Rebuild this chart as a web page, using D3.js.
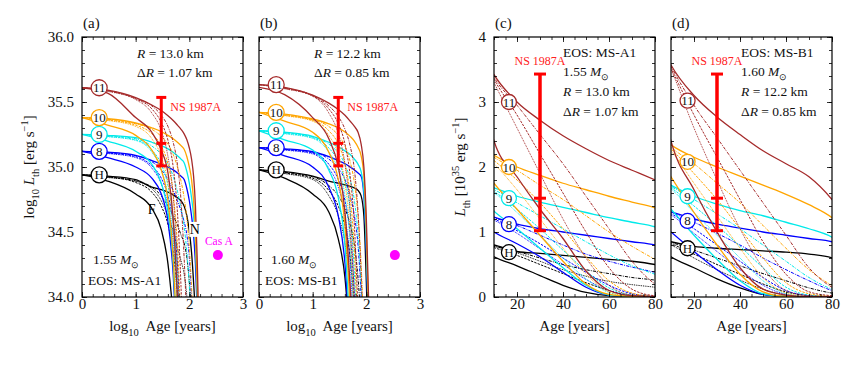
<!DOCTYPE html>
<html>
<head>
<meta charset="utf-8">
<script src="https://cdn.jsdelivr.net/npm/d3@7/dist/d3.min.js"></script>
<style>
  body { margin: 0; background: #fff; }
  svg text { white-space: pre; font-family: 'Liberation Serif' !important; }
</style>
</head>
<body>
<script>
const ages = [1, 3, 10, 20, 30, 40, 50, 60, 70, 80, 90, 100, 110, 120, 130, 140, 150];

// L_th in units of 1e35 erg/s.  N, F = solid, dd = dash-dot, ds = dashed, dt = dotted
// EOS MS-A1, 1.55 Msun  (panels a, c)
const A1_H = {
    N:  [0.87, 0.85, 0.80, 0.70, 0.67, 0.64, 0.61, 0.58, 0.55, 0.50, 0.42, 0.32, 0.22, 0.13, 0.07, 0.03, 0.01],
    F:  [0.87, 0.78, 0.62, 0.48, 0.33, 0.18, 0.07, 0.02, 0.008, 0.005],
    dd: [0.87, 0.84, 0.78, 0.70, 0.60, 0.50, 0.42, 0.36, 0.30, 0.26, 0.20, 0.13, 0.07, 0.03, 0.01],
    ds: [0.87, 0.84, 0.76, 0.64, 0.50, 0.36, 0.22, 0.10, 0.02, 0.008, 0.005],
    dt: [0.87, 0.83, 0.78, 0.68, 0.55, 0.42, 0.32, 0.24, 0.19, 0.15, 0.10, 0.05, 0.02, 0.008]
};
const A1_8 = {
    N:  [1.32, 1.30, 1.23, 1.12, 1.05, 1.00, 0.95, 0.90, 0.85, 0.80, 0.68, 0.55, 0.42, 0.30, 0.18, 0.08, 0.03],
    F:  [1.32, 1.18, 1.00, 0.82, 0.62, 0.38, 0.15, 0.03, 0.01, 0.005],
    dd: [1.32, 1.29, 1.22, 1.10, 0.95, 0.80, 0.66, 0.55, 0.46, 0.38, 0.30, 0.20, 0.10, 0.04, 0.01],
    ds: [1.32, 1.28, 1.20, 1.02, 0.82, 0.60, 0.38, 0.18, 0.05, 0.01, 0.005],
    dt: [1.32, 1.27, 1.18, 0.98, 0.74, 0.50, 0.27, 0.10, 0.02, 0.005]
};
const A1_9 = {
    N:  [1.78, 1.75, 1.68, 1.55, 1.46, 1.38, 1.30, 1.22, 1.15, 1.08, 0.92, 0.75, 0.58, 0.42, 0.25, 0.10, 0.04],
    F:  [1.78, 1.58, 1.32, 1.05, 0.75, 0.45, 0.18, 0.03, 0.008, 0.005],
    dd: [1.78, 1.74, 1.65, 1.45, 1.25, 1.05, 0.85, 0.65, 0.48, 0.35, 0.22, 0.12, 0.05, 0.02, 0.005],
    ds: [1.78, 1.72, 1.62, 1.35, 1.05, 0.72, 0.40, 0.14, 0.03, 0.008, 0.005],
    dt: [1.78, 1.71, 1.60, 1.30, 0.95, 0.60, 0.28, 0.07, 0.01, 0.005]
};
const A1_10 = {
    N:  [2.40, 2.35, 2.18, 2.00, 1.87, 1.75, 1.65, 1.55, 1.46, 1.37, 1.20, 1.00, 0.80, 0.55, 0.30, 0.12, 0.04],
    F:  [2.40, 2.10, 1.75, 1.35, 0.95, 0.55, 0.20, 0.04, 0.01, 0.005],
    dd: [2.40, 2.33, 2.15, 1.95, 1.72, 1.50, 1.25, 1.00, 0.78, 0.58, 0.40, 0.24, 0.12, 0.05, 0.02, 0.005],
    ds: [2.40, 2.30, 2.10, 1.80, 1.45, 1.05, 0.62, 0.25, 0.06, 0.01, 0.005],
    dt: [2.40, 2.28, 2.05, 1.65, 1.20, 0.75, 0.35, 0.08, 0.01, 0.005]
};
const A1_11 = {
    N:  [4.07, 3.90, 3.42, 3.00, 2.72, 2.48, 2.28, 2.10, 1.95, 1.80, 1.62, 1.40, 1.15, 0.85, 0.50, 0.20, 0.06],
    F:  [4.07, 3.70, 2.40, 1.85, 1.35, 0.90, 0.40, 0.10, 0.02, 0.005],
    dd: [4.07, 3.88, 3.38, 2.95, 2.50, 2.05, 1.55, 1.05, 0.55, 0.20, 0.06, 0.015, 0.005],
    ds: [4.07, 3.85, 3.35, 2.80, 2.20, 1.60, 1.00, 0.45, 0.12, 0.02, 0.005],
    dt: [4.07, 3.82, 3.30, 2.60, 1.90, 1.20, 0.60, 0.18, 0.03, 0.005]
};
// EOS MS-B1, 1.60 Msun  (panels b, d)
const B1_H = {
    N:  [0.95, 0.92, 0.85, 0.78, 0.75, 0.73, 0.71, 0.69, 0.66, 0.60, 0.42, 0.13, 0.03, 0.008],
    F:  [0.95, 0.82, 0.62, 0.45, 0.28, 0.14, 0.04, 0.01, 0.005, 0.005],
    dd: [0.95, 0.91, 0.84, 0.72, 0.60, 0.48, 0.36, 0.25, 0.14, 0.06, 0.02, 0.005],
    ds: [0.95, 0.90, 0.82, 0.66, 0.50, 0.35, 0.20, 0.08, 0.02, 0.005],
    dt: [0.95, 0.89, 0.80, 0.60, 0.42, 0.26, 0.12, 0.03, 0.005, 0.005]
};
const B1_8 = {
    N:  [1.41, 1.38, 1.31, 1.20, 1.12, 1.06, 1.00, 0.95, 0.90, 0.85, 0.60, 0.22, 0.05, 0.01],
    F:  [1.41, 1.22, 1.00, 0.70, 0.42, 0.18, 0.04, 0.01, 0.005, 0.005],
    dd: [1.41, 1.37, 1.30, 1.15, 0.98, 0.80, 0.60, 0.42, 0.25, 0.10, 0.03, 0.005],
    ds: [1.41, 1.36, 1.28, 1.05, 0.80, 0.55, 0.30, 0.10, 0.02, 0.005],
    dt: [1.41, 1.35, 1.26, 0.98, 0.70, 0.42, 0.18, 0.04, 0.005, 0.005]
};
const B1_9 = {
    N:  [1.90, 1.85, 1.72, 1.55, 1.43, 1.33, 1.25, 1.15, 1.05, 0.92, 0.65, 0.25, 0.06, 0.01],
    F:  [1.90, 1.62, 1.35, 0.95, 0.58, 0.25, 0.05, 0.01, 0.005, 0.005],
    dd: [1.90, 1.84, 1.70, 1.50, 1.28, 1.05, 0.80, 0.55, 0.30, 0.12, 0.03, 0.005],
    ds: [1.90, 1.82, 1.68, 1.40, 1.10, 0.78, 0.45, 0.15, 0.03, 0.005],
    dt: [1.90, 1.80, 1.66, 1.30, 0.95, 0.60, 0.25, 0.05, 0.005, 0.005]
};
const B1_10 = {
    N:  [2.63, 2.55, 2.34, 2.15, 2.00, 1.86, 1.72, 1.58, 1.42, 1.22, 0.85, 0.32, 0.07, 0.01],
    F:  [2.63, 2.25, 1.85, 1.30, 0.80, 0.35, 0.08, 0.01, 0.005, 0.005],
    dd: [2.63, 2.52, 2.30, 2.05, 1.75, 1.45, 1.10, 0.75, 0.42, 0.18, 0.05, 0.01],
    ds: [2.63, 2.50, 2.28, 1.90, 1.50, 1.05, 0.60, 0.22, 0.05, 0.01],
    dt: [2.63, 2.48, 2.25, 1.75, 1.25, 0.75, 0.30, 0.06, 0.01, 0.005]
};
const B1_11 = {
    N:  [4.30, 4.10, 3.57, 3.10, 2.77, 2.50, 2.25, 2.05, 1.85, 1.50, 1.00, 0.40, 0.10, 0.02],
    F:  [4.10, 3.60, 2.40, 1.65, 1.00, 0.45, 0.12, 0.03, 0.005, 0.005],
    dd: [4.30, 4.05, 3.55, 2.95, 2.45, 1.95, 1.45, 0.95, 0.45, 0.15, 0.04, 0.01],
    ds: [4.30, 4.02, 3.52, 2.80, 2.15, 1.50, 0.85, 0.35, 0.08, 0.02],
    dt: [4.30, 4.00, 3.50, 2.60, 1.80, 1.05, 0.45, 0.10, 0.02, 0.005]
};

const models = ['H', '8', '9', '10', '11'];
const setA1 = [A1_H, A1_8, A1_9, A1_10, A1_11];
const setB1 = [B1_H, B1_8, B1_9, B1_10, B1_11];

// circled labels on the linear panels (age, L)
const labelAgeC = 16.5, labelLC = [0.69, 1.12, 1.52, 2.00, 3.00];
const labelAgeD = 17.2, labelLD = [0.75, 1.17, 1.55, 2.08, 3.02];

// observations
const ns1987a = {age: 30, lo: 1.02, mid: 1.52, hi: 3.43};
const casA = {age: 340, L: 0.21};

const FONT = "'Liberation Serif'";
const colors = ['#000000', '#0000ff', '#00eaea', '#ffa500', '#a52a2a'];
const dashes = {N: null, F: null, dd: '3.2,1.2,0.9,1.2', ds: '2.4,1.2', dt: '0.9,0.9'};
const widths = {N: 1.3, F: 1.3, dd: 1.0, ds: 1.0, dt: 1.0};
const TOP = 37, BOT = 297;

let svg = d3.select('body').append('svg')
    .attr('width', 855).attr('height', 372)
    .style('font-family', FONT);

function rich(sel, parts, fs) {
    let cur = 0;
    parts.forEach(function(p) {
        let off = p.sub ? 0.3 * fs : (p.sup ? -0.4 * fs : 0);
        let t = sel.append('tspan').text(p.t).attr('dy', off - cur);
        cur = off;
        if (p.sub || p.sup) t.attr('font-size', fs * 0.7);
        if (p.it) t.attr('font-style', 'italic');
    });
}

let panels = [
    {tag: '(a)', left: 82,  right: 243, log: true,  data: setA1, yLabels: true},
    {tag: '(b)', left: 259, right: 420, log: true,  data: setB1, yLabels: false},
    {tag: '(c)', left: 494, right: 655, log: false, data: setA1, yLabels: true, lAge: labelAgeC, lL: labelLC},
    {tag: '(d)', left: 671, right: 832, log: false, data: setB1, yLabels: false, lAge: labelAgeD, lL: labelLD}
];

panels.forEach(function(p, pi) {
    let x = d3.scaleLinear().domain(p.log ? [0, 3] : [10, 80]).range([p.left, p.right]);
    let y = d3.scaleLinear().domain(p.log ? [34, 36] : [0, 4]).range([BOT, TOP]);
    let px = function(a) { return p.log ? x(Math.log10(a)) : x(a); };
    let py = function(L) { return p.log ? y(35 + Math.log10(L)) : y(L); };

    let g = svg.append('g');
    let clipId = 'clip' + pi;
    g.append('clipPath').attr('id', clipId).append('rect')
        .attr('x', p.left).attr('y', TOP)
        .attr('width', p.right - p.left).attr('height', BOT - TOP);

    let curves = g.append('g').attr('clip-path', 'url(#' + clipId + ')');
    let line = d3.line().curve(d3.curveMonotoneX);

    p.data.forEach(function(set, mi) {
        ['dt', 'ds', 'dd', 'F', 'N'].forEach(function(k) {
            let pts = set[k].map(function(L, i) { return [px(ages[i]), py(L)]; });
            curves.append('path')
                .attr('d', line(pts))
                .attr('fill', 'none')
                .attr('stroke', colors[mi])
                .attr('stroke-width', widths[k])
                .attr('stroke-dasharray', dashes[k]);
        });
    });

    // F / N markers on panel (a)
    if (pi === 0) {
        g.append('text').attr('x', x(1.30)).attr('y', y(34.68) + 5)
            .attr('text-anchor', 'middle').attr('font-size', 14).text('F');
        g.append('rect').attr('x', x(2.10) - 5.5).attr('y', y(34.52) - 7.5)
            .attr('width', 11).attr('height', 15).attr('fill', '#fff');
        g.append('text').attr('x', x(2.10)).attr('y', y(34.52) + 5)
            .attr('text-anchor', 'middle').attr('font-size', 14).text('N');
    }

    // circled model labels
    models.forEach(function(m, mi) {
        let cx, cy;
        if (p.log) { cx = x(0.32); cy = py(p.data[mi].N[0]); }
        else { cx = x(p.lAge); cy = y(p.lL[mi]); }
        let r = p.log ? 8 : 7.5;
        g.append('circle').attr('cx', cx).attr('cy', cy).attr('r', r)
            .attr('fill', '#fff').attr('stroke', colors[mi]).attr('stroke-width', 1.3);
        g.append('text').attr('x', cx).attr('y', cy + 4.5)
            .attr('text-anchor', 'middle').attr('font-size', 13).attr('fill', '#111')
            .text(m);
    });

    // NS 1987A error bar
    let ex = px(ns1987a.age);
    let cap = p.log ? 5 : 6;
    let eb = g.append('g').attr('stroke', '#ff0000');
    eb.append('line').attr('x1', ex).attr('x2', ex)
        .attr('y1', py(ns1987a.lo)).attr('y2', py(ns1987a.hi))
        .attr('stroke-width', p.log ? 3 : 3.5);
    [ns1987a.lo, ns1987a.mid, ns1987a.hi].forEach(function(v) {
        eb.append('line').attr('x1', ex - cap).attr('x2', ex + cap)
            .attr('y1', py(v)).attr('y2', py(v)).attr('stroke-width', 3);
    });
    if (p.log) {
        g.append('text').attr('x', ex + 9).attr('y', 111)
            .attr('font-size', 12).attr('fill', '#ff2020').text('NS 1987A');
        g.append('circle').attr('cx', px(casA.age)).attr('cy', py(casA.L)).attr('r', 5)
            .attr('fill', '#ff00ff');
        if (pi === 0) {
            g.append('text').attr('x', px(casA.age) + 1).attr('y', 245)
                .attr('text-anchor', 'middle').attr('font-size', 11.5).attr('fill', '#ff00ff')
                .text('Cas A');
        }
    } else {
        g.append('text').attr('x', ex).attr('y', 65)
            .attr('text-anchor', 'middle').attr('font-size', 12).attr('fill', '#ff2020')
            .text('NS 1987A');
    }

    // axes: inward ticks on all four sides
    let xMaj = p.log ? [0, 1, 2, 3] : [20, 40, 60, 80];
    let xMin = p.log ? d3.range(0, 3.001, 0.2) : d3.range(10, 80.1, 5);
    let yMaj = p.log ? [34, 34.5, 35, 35.5, 36] : [0, 1, 2, 3, 4];
    let yMin = p.log ? d3.range(34, 36.001, 0.1) : d3.range(0, 4.001, 0.2);
    let yFmt = p.log ? d3.format('.1f') : d3.format('d');

    function ax(gen, tr, vals, size, fmt, pad) {
        let a = g.append('g').attr('transform', tr)
            .call(gen.tickValues(vals).tickSizeInner(-size).tickSizeOuter(0)
                .tickPadding(pad).tickFormat(fmt));
        a.select('.domain').remove();
        a.attr('font-family', FONT).attr('font-size', 15);
        a.selectAll('line').attr('stroke', '#000').attr('stroke-width', 0.8);
        a.selectAll('text').attr('fill', '#111');
        return a;
    }
    let none = function() { return ''; };
    ax(d3.axisBottom(x), 'translate(0,' + BOT + ')', xMaj, 5, d3.format('d'), 1);
    ax(d3.axisBottom(x), 'translate(0,' + BOT + ')', xMin, 3, none, 0);
    ax(d3.axisTop(x), 'translate(0,' + TOP + ')', xMaj, 5, none, 0);
    ax(d3.axisTop(x), 'translate(0,' + TOP + ')', xMin, 3, none, 0);
    ax(d3.axisLeft(y), 'translate(' + p.left + ',0)', yMaj, 5, p.yLabels ? yFmt : none, 8);
    ax(d3.axisLeft(y), 'translate(' + p.left + ',0)', yMin, 3, none, 0);
    ax(d3.axisRight(y), 'translate(' + p.right + ',0)', yMaj, 5, none, 0);
    ax(d3.axisRight(y), 'translate(' + p.right + ',0)', yMin, 3, none, 0);

    g.append('rect').attr('x', p.left).attr('y', TOP)
        .attr('width', p.right - p.left).attr('height', BOT - TOP)
        .attr('fill', 'none').attr('stroke', '#000').attr('stroke-width', 1.2);

    // panel tag
    g.append('text').attr('x', p.left + 1).attr('y', 28).attr('font-size', 15)
        .attr('fill', '#111').text(p.tag);

    // x title
    let xt = g.append('text').attr('x', (p.left + p.right) / 2).attr('y', 331)
        .attr('text-anchor', 'middle').attr('font-size', 15).attr('fill', '#111');
    if (p.log) rich(xt, [{t: 'log'}, {t: '10', sub: true}, {t: '  Age [years]'}], 15);
    else xt.text('Age [years]');

    // y title
    if (p.yLabels) {
        let yt = g.append('text')
            .attr('transform', 'translate(' + (p.log ? 34 : 465) + ',167) rotate(-90)')
            .attr('text-anchor', 'middle').attr('font-size', 15).attr('fill', '#111');
        if (p.log) rich(yt, [{t: 'log'}, {t: '10', sub: true}, {t: ' '}, {t: 'L', it: true},
            {t: 'th', sub: true}, {t: ' [erg s'}, {t: '\u22121', sup: true}, {t: ']'}], 15);
        else rich(yt, [{t: 'L', it: true}, {t: 'th', sub: true}, {t: ' [10'}, {t: '35', sup: true},
            {t: ' erg s'}, {t: '\u22121', sup: true}, {t: ']'}], 15);
    }
});

// text annotations
function note(x, y, parts, fs) {
    let t = svg.append('text').attr('x', x).attr('y', y).attr('font-size', fs).attr('fill', '#111');
    rich(t, parts, fs);
}
let R = function(v) { return [{t: 'R', it: true}, {t: ' = ' + v + ' km'}]; };
let dR = function(v) { return [{t: '\u0394'}, {t: 'R', it: true}, {t: ' = ' + v + ' km'}]; };
let M = function(v) { return [{t: v + ' '}, {t: 'M', it: true}, {t: '\u2299', sub: true}]; };

note(137, 58, R('13.0'), 13.5);
note(137, 77, dR('1.07'), 13.5);
note(93, 264, M('1.55'), 13.5);
note(88, 285, [{t: 'EOS: MS-A1'}], 13.5);

note(314, 58, R('12.2'), 13.5);
note(314, 77, dR('0.85'), 13.5);
note(271, 264, M('1.60'), 13.5);
note(265, 285, [{t: 'EOS: MS-B1'}], 13.5);

note(563, 57, [{t: 'EOS: MS-A1'}], 13.5);
note(563, 76, M('1.55'), 13.5);
note(563, 96, R('13.0'), 13.5);
note(563, 116, dR('1.07'), 13.5);

note(741, 57, [{t: 'EOS: MS-B1'}], 13.5);
note(741, 76, M('1.60'), 13.5);
note(741, 96, R('12.2'), 13.5);
note(741, 116, dR('0.85'), 13.5);
</script>
</body>
</html>
